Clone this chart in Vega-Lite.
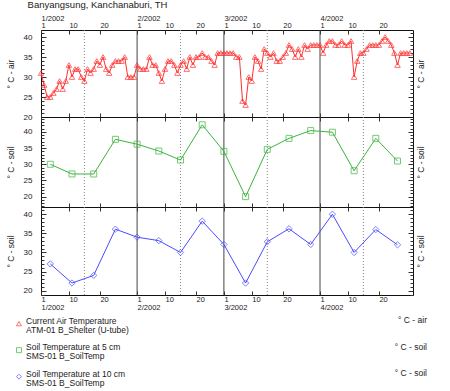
{
  "$schema": "https://vega.github.io/schema/vega-lite/v6.json",
  "padding": {"left": 5, "top": 0, "right": 5, "bottom": 0},
  "title": {"text": "Banyangsung, Kanchanaburi, TH", "anchor": "start", "fontSize": 9.5, "fontWeight": "normal", "font": "Liberation Sans", "color": "#222", "dx": 22, "offset": 4},
  "spacing": 0,
  "bounds": "flush",
  "resolve": {"scale": {"x": "independent", "y": "independent"}},
  "datasets": {
    "air": [
      {"date":"2002-01-01","t":31},{"date":"2002-01-02","t":28},{"date":"2002-01-03","t":25},{"date":"2002-01-04","t":25},{"date":"2002-01-05","t":26},{"date":"2002-01-06","t":27},{"date":"2002-01-07","t":29},{"date":"2002-01-08","t":27},{"date":"2002-01-09","t":29},{"date":"2002-01-10","t":33},{"date":"2002-01-11","t":30},{"date":"2002-01-12","t":32},{"date":"2002-01-13","t":32},{"date":"2002-01-14","t":30},{"date":"2002-01-15","t":29},{"date":"2002-01-16","t":32},{"date":"2002-01-17","t":31},{"date":"2002-01-18","t":32},{"date":"2002-01-19","t":34},{"date":"2002-01-20","t":33},{"date":"2002-01-21","t":35},{"date":"2002-01-22","t":32},{"date":"2002-01-23","t":31},{"date":"2002-01-24","t":33},{"date":"2002-01-25","t":34},{"date":"2002-01-26","t":34},{"date":"2002-01-27","t":34},{"date":"2002-01-28","t":35},{"date":"2002-01-29","t":30},{"date":"2002-01-30","t":30},{"date":"2002-01-31","t":30},
      {"date":"2002-02-01","t":33},{"date":"2002-02-02","t":32},{"date":"2002-02-03","t":32},{"date":"2002-02-04","t":32},{"date":"2002-02-05","t":35},{"date":"2002-02-06","t":33},{"date":"2002-02-07","t":33},{"date":"2002-02-08","t":31},{"date":"2002-02-09","t":29},{"date":"2002-02-10","t":32},{"date":"2002-02-11","t":34},{"date":"2002-02-12","t":34},{"date":"2002-02-13","t":33},{"date":"2002-02-14","t":31},{"date":"2002-02-15","t":33},{"date":"2002-02-16","t":34},{"date":"2002-02-17","t":32},{"date":"2002-02-18","t":35},{"date":"2002-02-19","t":33},{"date":"2002-02-20","t":35},{"date":"2002-02-21","t":35},{"date":"2002-02-22","t":36},{"date":"2002-02-23","t":35},{"date":"2002-02-24","t":35},{"date":"2002-02-25","t":34},{"date":"2002-02-26","t":33},{"date":"2002-02-27","t":36},{"date":"2002-02-28","t":36},
      {"date":"2002-03-01","t":36},{"date":"2002-03-02","t":36},{"date":"2002-03-03","t":36},{"date":"2002-03-04","t":36},{"date":"2002-03-05","t":35},{"date":"2002-03-06","t":35},{"date":"2002-03-07","t":24},{"date":"2002-03-08","t":23},{"date":"2002-03-09","t":30},{"date":"2002-03-10","t":29},{"date":"2002-03-11","t":35},{"date":"2002-03-12","t":34},{"date":"2002-03-13","t":32},{"date":"2002-03-14","t":37},{"date":"2002-03-15","t":36},{"date":"2002-03-16","t":35},{"date":"2002-03-17","t":36},{"date":"2002-03-18","t":34},{"date":"2002-03-19","t":34},{"date":"2002-03-20","t":35},{"date":"2002-03-21","t":36},{"date":"2002-03-22","t":38},{"date":"2002-03-23","t":37},{"date":"2002-03-24","t":35},{"date":"2002-03-25","t":37},{"date":"2002-03-26","t":35},{"date":"2002-03-27","t":38},{"date":"2002-03-28","t":37},{"date":"2002-03-29","t":38},{"date":"2002-03-30","t":38},{"date":"2002-03-31","t":38},
      {"date":"2002-04-01","t":38},{"date":"2002-04-02","t":36},{"date":"2002-04-03","t":38},{"date":"2002-04-04","t":39},{"date":"2002-04-05","t":39},{"date":"2002-04-06","t":38},{"date":"2002-04-07","t":38},{"date":"2002-04-08","t":39},{"date":"2002-04-09","t":38},{"date":"2002-04-10","t":38},{"date":"2002-04-11","t":39},{"date":"2002-04-12","t":30},{"date":"2002-04-13","t":34},{"date":"2002-04-14","t":36},{"date":"2002-04-15","t":36},{"date":"2002-04-16","t":37},{"date":"2002-04-17","t":38},{"date":"2002-04-18","t":38},{"date":"2002-04-19","t":38},{"date":"2002-04-20","t":38},{"date":"2002-04-21","t":39},{"date":"2002-04-22","t":40},{"date":"2002-04-23","t":39},{"date":"2002-04-24","t":38},{"date":"2002-04-25","t":36},{"date":"2002-04-26","t":33},{"date":"2002-04-27","t":36},{"date":"2002-04-28","t":36},{"date":"2002-04-29","t":36},{"date":"2002-04-30","t":36}
    ],
    "soil5": [
      {"date":"2002-01-04","t":30},{"date":"2002-01-11","t":27},{"date":"2002-01-18","t":27},{"date":"2002-01-25","t":37.7},{"date":"2002-02-01","t":36.2},{"date":"2002-02-08","t":34.1},{"date":"2002-02-15","t":31.3},{"date":"2002-02-22","t":42.2},{"date":"2002-03-01","t":34},{"date":"2002-03-08","t":20},{"date":"2002-03-15","t":34.6},{"date":"2002-03-22","t":38},{"date":"2002-03-29","t":40.4},{"date":"2002-04-05","t":39.9},{"date":"2002-04-12","t":28},{"date":"2002-04-19","t":38},{"date":"2002-04-26","t":31}
    ],
    "soil10": [
      {"date":"2002-01-04","t":27},{"date":"2002-01-11","t":22},{"date":"2002-01-18","t":24},{"date":"2002-01-25","t":36.1},{"date":"2002-02-01","t":34},{"date":"2002-02-08","t":33.1},{"date":"2002-02-15","t":30},{"date":"2002-02-22","t":38.2},{"date":"2002-03-01","t":32.1},{"date":"2002-03-08","t":22},{"date":"2002-03-15","t":32.8},{"date":"2002-03-22","t":36.2},{"date":"2002-03-29","t":32.1},{"date":"2002-04-05","t":40},{"date":"2002-04-12","t":30},{"date":"2002-04-19","t":36},{"date":"2002-04-26","t":32}
    ],
    "grid": [
      {"date":"2002-02-01","kind":"month"},{"date":"2002-03-01","kind":"month"},{"date":"2002-04-01","kind":"month"},
      {"date":"2002-01-15","kind":"mid"},{"date":"2002-02-15","kind":"mid"},{"date":"2002-03-15","kind":"mid"},{"date":"2002-04-15","kind":"mid"}
    ],
    "legend": [
      {"item":1,"series":"air","label":"Current Air Temperature\nATM-01 B_Shelter (U-tube)","unit":"° C - air"},
      {"item":2,"series":"soil5","label":"Soil Temperature at 5 cm\nSMS-01 B_SoilTemp","unit":"° C - soil"},
      {"item":3,"series":"soil10","label":"Soil Temperature at 10 cm\nSMS-01 B_SoilTemp","unit":"° C - soil"}
    ]
  },
  "vconcat": [
    {
      "width": 372, "height": 87,
      "layer": [
        {"data": {"name": "grid"}, "transform": [{"filter": "datum.kind == 'month'"}], "mark": {"type": "rule", "color": "#444", "strokeWidth": 1},
         "encoding": {"x": {"field": "date", "type": "temporal", "scale": {"type": "utc", "nice": false, "domain": [1009843200000, 1020211200000]},
           "axis": {"orient": "top", "values": [1009843200000,1012521600000,1014940800000,1017619200000], "labelExpr": "(utcmonth(datum.value) + 1) + '/2002'", "ticks": false, "labelAlign": "left", "labelBaseline": "bottom", "labelFlush": false, "labelOverlap": false, "labelFontSize": 7.5, "labelPadding": 8, "title": null}}}},
        {"data": {"name": "grid"}, "transform": [{"filter": "datum.kind == 'mid'"}], "mark": {"type": "rule", "color": "#888", "strokeWidth": 1, "strokeDash": [1, 2]},
         "encoding": {"x": {"field": "date", "type": "temporal", "axis": null}}},
        {"data": {"name": "air"}, "mark": {"type": "line", "color": "#ff3030", "strokeWidth": 1},
         "encoding": {
           "x": {"field": "date", "type": "temporal", "axis": {"orient": "bottom", "values": [1009843200000,1010620800000,1011484800000,1012521600000,1013299200000,1014163200000,1014940800000,1015718400000,1016582400000,1017619200000,1018396800000,1019260800000], "labels": false, "tickSize": -4, "title": null}},
           "y": {"field": "t", "type": "quantitative", "scale": {"domain": [20, 41.75], "nice": false, "zero": false},
                 "axis": {"orient": "left", "values": [20,21,22,23,24,25,26,27,28,29,30,31,32,33,34,35,36,37,38,39,40,41], "labelExpr": "datum.value % 5 === 0 ? datum.label : ''", "labelOverlap": false, "tickSize": {"condition": {"test": "datum.value % 5 === 0", "value": -5}, "value": -3}, "labelPadding": 14, "title": "° C - air", "titlePadding": 8}}
         }},
        {"data": {"name": "air"}, "mark": {"type": "point", "shape": "triangle-up", "filled": false, "color": "#ff3030", "size": 30, "strokeWidth": 1},
         "encoding": {
           "x": {"field": "date", "type": "temporal", "axis": {"orient": "top", "values": [1009843200000,1010620800000,1011484800000,1012521600000,1013299200000,1014163200000,1014940800000,1015718400000,1016582400000,1017619200000,1018396800000,1019260800000], "labelExpr": "'' + utcdate(datum.value)", "labelAlign": "left", "labelBaseline": "bottom", "labelFlush": false, "labelOverlap": false, "labelFontSize": 7.5, "tickSize": -4, "labelPadding": 4.5, "title": null}},
           "y": {"field": "t", "type": "quantitative",
                 "axis": {"orient": "right", "values": [20,21,22,23,24,25,26,27,28,29,30,31,32,33,34,35,36,37,38,39,40,41], "labels": false, "tickSize": {"condition": {"test": "datum.value % 5 === 0", "value": -5}, "value": -3}, "title": "° C - air", "titleAngle": 270, "titleBaseline": "top", "titlePadding": 3}}
         }}
      ],
      "resolve": {"axis": {"x": "independent", "y": "independent"}}
    },
    {
      "width": 372, "height": 90,
      "layer": [
        {"data": {"name": "grid"}, "transform": [{"filter": "datum.kind == 'month'"}], "mark": {"type": "rule", "color": "#444", "strokeWidth": 1},
         "encoding": {"x": {"field": "date", "type": "temporal", "scale": {"type": "utc", "nice": false, "domain": [1009843200000, 1020211200000]}, "axis": null}}},
        {"data": {"name": "grid"}, "transform": [{"filter": "datum.kind == 'mid'"}], "mark": {"type": "rule", "color": "#888", "strokeWidth": 1, "strokeDash": [1, 2]},
         "encoding": {"x": {"field": "date", "type": "temporal", "axis": null}}},
        {"data": {"name": "soil5"}, "mark": {"type": "line", "color": "#3cb43c", "strokeWidth": 1},
         "encoding": {
           "x": {"field": "date", "type": "temporal", "axis": {"orient": "bottom", "values": [1009843200000,1010620800000,1011484800000,1012521600000,1013299200000,1014163200000,1014940800000,1015718400000,1016582400000,1017619200000,1018396800000,1019260800000], "labels": false, "tickSize": -4, "title": null}},
           "y": {"field": "t", "type": "quantitative", "scale": {"domain": [16.8, 44.6], "nice": false, "zero": false},
                 "axis": {"orient": "left", "values": [17,18,19,20,21,22,23,24,25,26,27,28,29,30,31,32,33,34,35,36,37,38,39,40,41,42,43,44], "labelExpr": "datum.value % 5 === 0 ? datum.label : ''", "labelOverlap": false, "tickSize": {"condition": {"test": "datum.value % 5 === 0", "value": -5}, "value": -3}, "labelPadding": 14, "title": "° C - soil", "titlePadding": 8}}
         }},
        {"data": {"name": "soil5"}, "mark": {"type": "point", "shape": "square", "filled": false, "color": "#3cb43c", "size": 36, "strokeWidth": 1},
         "encoding": {
           "x": {"field": "date", "type": "temporal", "axis": {"orient": "top", "values": [1009843200000,1010620800000,1011484800000,1012521600000,1013299200000,1014163200000,1014940800000,1015718400000,1016582400000,1017619200000,1018396800000,1019260800000], "labels": false, "tickSize": -4, "title": null}},
           "y": {"field": "t", "type": "quantitative",
                 "axis": {"orient": "right", "values": [17,18,19,20,21,22,23,24,25,26,27,28,29,30,31,32,33,34,35,36,37,38,39,40,41,42,43,44], "labels": false, "tickSize": {"condition": {"test": "datum.value % 5 === 0", "value": -5}, "value": -3}, "title": "° C - soil", "titleAngle": 270, "titleBaseline": "top", "titlePadding": 3}}
         }}
      ],
      "resolve": {"axis": {"x": "independent", "y": "independent"}}
    },
    {
      "width": 372, "height": 88,
      "layer": [
        {"data": {"name": "grid"}, "transform": [{"filter": "datum.kind == 'month'"}], "mark": {"type": "rule", "color": "#444", "strokeWidth": 1},
         "encoding": {"x": {"field": "date", "type": "temporal", "scale": {"type": "utc", "nice": false, "domain": [1009843200000, 1020211200000]},
           "axis": {"orient": "bottom", "values": [1009843200000,1012521600000,1014940800000,1017619200000], "labelExpr": "(utcmonth(datum.value) + 1) + '/2002'", "ticks": false, "labelAlign": "left", "labelBaseline": "top", "labelFlush": false, "labelOverlap": false, "labelFontSize": 7.5, "labelPadding": 8, "title": null}}}},
        {"data": {"name": "grid"}, "transform": [{"filter": "datum.kind == 'mid'"}], "mark": {"type": "rule", "color": "#888", "strokeWidth": 1, "strokeDash": [1, 2]},
         "encoding": {"x": {"field": "date", "type": "temporal", "axis": null}}},
        {"data": {"name": "soil10"}, "mark": {"type": "line", "color": "#4b4bff", "strokeWidth": 1},
         "encoding": {
           "x": {"field": "date", "type": "temporal", "axis": {"orient": "bottom", "values": [1009843200000,1010620800000,1011484800000,1012521600000,1013299200000,1014163200000,1014940800000,1015718400000,1016582400000,1017619200000,1018396800000,1019260800000], "labelExpr": "'' + utcdate(datum.value)", "labelAlign": "left", "labelBaseline": "top", "labelFlush": false, "labelOverlap": false, "labelFontSize": 7.5, "tickSize": -4, "labelPadding": 4.5, "title": null}},
           "y": {"field": "t", "type": "quantitative", "scale": {"domain": [18.87, 41.9], "nice": false, "zero": false},
                 "axis": {"orient": "left", "values": [19,20,21,22,23,24,25,26,27,28,29,30,31,32,33,34,35,36,37,38,39,40,41], "labelExpr": "datum.value % 5 === 0 ? datum.label : ''", "labelOverlap": false, "tickSize": {"condition": {"test": "datum.value % 5 === 0", "value": -5}, "value": -3}, "labelPadding": 14, "title": "° C - soil", "titlePadding": 8}}
         }},
        {"data": {"name": "soil10"}, "mark": {"type": "point", "shape": "diamond", "filled": false, "color": "#4b4bff", "size": 40, "strokeWidth": 1},
         "encoding": {
           "x": {"field": "date", "type": "temporal", "axis": {"orient": "top", "values": [1009843200000,1010620800000,1011484800000,1012521600000,1013299200000,1014163200000,1014940800000,1015718400000,1016582400000,1017619200000,1018396800000,1019260800000], "labels": false, "tickSize": -4, "title": null}},
           "y": {"field": "t", "type": "quantitative",
                 "axis": {"orient": "right", "values": [19,20,21,22,23,24,25,26,27,28,29,30,31,32,33,34,35,36,37,38,39,40,41], "labels": false, "tickSize": {"condition": {"test": "datum.value % 5 === 0", "value": -5}, "value": -3}, "title": "° C - soil", "titleAngle": 270, "titleBaseline": "top", "titlePadding": 3}}
         }}
      ],
      "resolve": {"axis": {"x": "independent", "y": "independent"}}
    },
    {
      "width": 372, "height": 91,
      "view": {"stroke": null},
      "data": {"name": "legend"},
      "encoding": {
        "y": {"field": "item", "type": "quantitative", "scale": {"domain": [-0.08, 3.35], "reverse": true, "nice": false, "zero": false}, "axis": null}
      },
      "layer": [
        {"mark": {"type": "point", "filled": false, "size": 25, "strokeWidth": 1},
         "encoding": {
           "x": {"datum": 0, "type": "quantitative", "scale": {"domain": [0, 1], "range": [-22, 386], "nice": false, "zero": false}, "axis": null},
           "shape": {"field": "series", "type": "nominal", "scale": {"domain": ["air", "soil5", "soil10"], "range": ["triangle-up", "square", "diamond"]}, "legend": null},
           "color": {"field": "series", "type": "nominal", "scale": {"domain": ["air", "soil5", "soil10"], "range": ["#ff3030", "#3cb43c", "#4b4bff"]}, "legend": null}
         }},
        {"mark": {"type": "text", "align": "left", "baseline": "middle", "dx": 7, "dy": -3, "fontSize": 8.5, "lineHeight": 9, "lineBreak": "\n", "font": "Liberation Sans", "color": "#222"},
         "encoding": {"x": {"datum": 0, "type": "quantitative"}, "text": {"field": "label"}}},
        {"mark": {"type": "text", "align": "right", "baseline": "middle", "dy": -3.5, "fontSize": 8.5, "font": "Liberation Sans", "color": "#222"},
         "encoding": {"x": {"datum": 1, "type": "quantitative"}, "text": {"field": "unit"}}}
      ]
    }
  ],
  "config": {
    "view": {"stroke": "#111", "strokeWidth": 1},
    "font": "Liberation Sans",
    "axis": {"labelFont": "Liberation Sans", "labelFontSize": 8, "labelColor": "#222", "titleFont": "Liberation Sans", "titleFontSize": 8.5, "titleFontWeight": "normal", "titleColor": "#222", "tickColor": "#333", "domain": false, "grid": false}
  }
}
